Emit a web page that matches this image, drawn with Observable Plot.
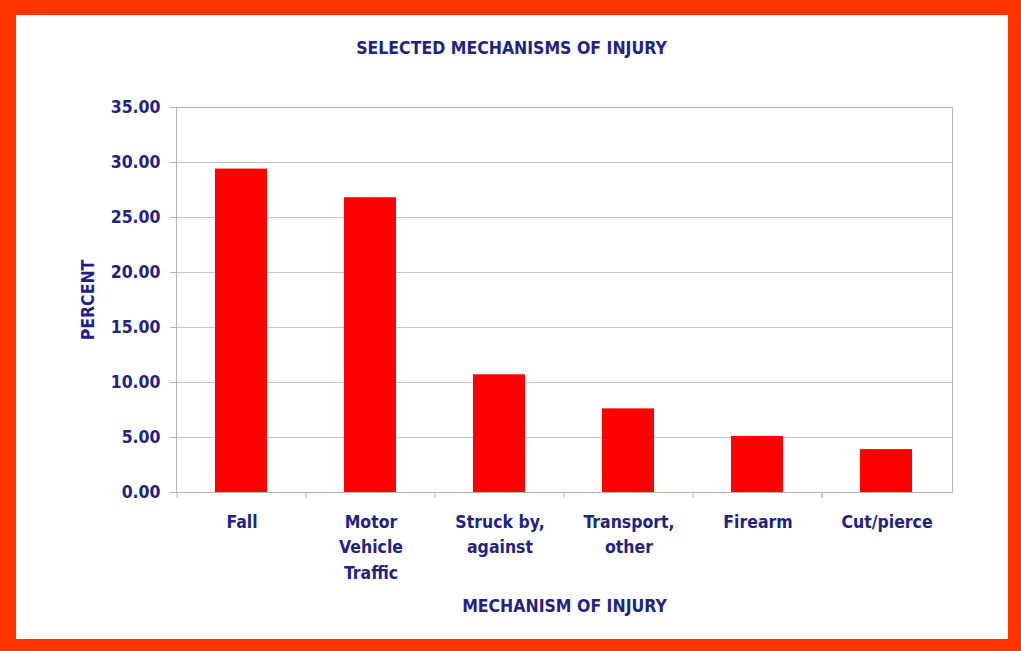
<!DOCTYPE html>
<html>
<head>
<meta charset="utf-8">
<script src="https://cdn.jsdelivr.net/npm/d3@7"></script>
<script src="https://cdn.jsdelivr.net/npm/@observablehq/plot@0.6"></script>
<style>
  html, body { margin: 0; padding: 0; background: #fff; }
  #wrap { position: relative; width: 1021px; height: 651px; overflow: hidden; }
  #border { position: absolute; left: 0; top: 0; width: 1021px; height: 651px; box-sizing: border-box;
            border-style: solid; border-color: #ff3300; border-width: 15px 13px 12px 16px; background: #fff; }
  #chart { position: absolute; left: 0; top: 0; }
  #chart svg { font-family: "DejaVu Sans", sans-serif; font-weight: bold; font-stretch: condensed; }
</style>
</head>
<body>
<div id="wrap"><div id="border"></div><div id="chart"></div></div>
<script>
const categories = ["Fall", "Motor Vehicle Traffic", "Struck by, against", "Transport, other", "Firearm", "Cut/pierce"];
const tickLabels = ["Fall", "Motor\nVehicle\nTraffic", "Struck by,\nagainst", "Transport,\nother", "Firearm", "Cut/pierce"];
const percents = [29.4, 26.8, 10.7, 7.6, 5.1, 3.9];
const yTicks = [0, 5, 10, 15, 20, 25, 30, 35];
const titleText = "SELECTED MECHANISMS OF INJURY";
const xLabel = "MECHANISM OF INJURY";
const yLabel = "PERCENT";

const data = categories.map((c, i) => ({category: c, percent: percents[i]}));
const labelOf = new Map(categories.map((c, i) => [c, tickLabels[i]]));

const W = 1021, H = 651;
const mL = 176, mR = 69, mT = 107, mB = 159;
const band = (W - mL - mR) / categories.length;
const navy = "#23237e";
const gray = "#b4b4b4";

const boundaries = categories.map((c, i) => ({c, dx: -band / 2})).concat([{c: categories[categories.length - 1], dx: band / 2}]);

const plot = Plot.plot({
  width: W, height: H,
  marginLeft: mL, marginRight: mR, marginTop: mT, marginBottom: mB,
  style: {background: "transparent", overflow: "visible"},
  x: {domain: categories, padding: 0},
  y: {domain: [0, 35]},
  marks: [
    Plot.gridY(yTicks, {stroke: "#c4c4c4", strokeOpacity: 1}),
    Plot.barY(data, {x: "category", y: "percent", fill: "#ff0000", insetLeft: 38, insetRight: 39}),
    Plot.frame({stroke: gray}),
    Plot.axisY({ticks: yTicks, tickFormat: d => d.toFixed(2), tickSize: 6, tickPadding: 10,
                fontSize: 17.5, fill: navy, stroke: gray, label: null}),
    Plot.axisX({tickSize: 0, tickPadding: 17, tickFormat: d => labelOf.get(d), fontSize: 17.5,
                lineHeight: 1.46, fill: navy, label: null}),
    Plot.ruleX(boundaries, {x: "c", dx: d => d.dx, y1: 0, y2: 0, insetBottom: -6, stroke: gray}),
    Plot.text([titleText], {frameAnchor: "top", dx: -53, dy: -66, fontSize: 17.5, fill: navy}),
    Plot.text([xLabel], {frameAnchor: "bottom", dy: 119, fontSize: 17.5, fill: navy}),
    Plot.text([yLabel], {frameAnchor: "left", textAnchor: "middle", dx: -88, rotate: -90, fontSize: 17.5, fill: navy})
  ]
});
document.getElementById("chart").appendChild(plot);
</script>
</body>
</html>
